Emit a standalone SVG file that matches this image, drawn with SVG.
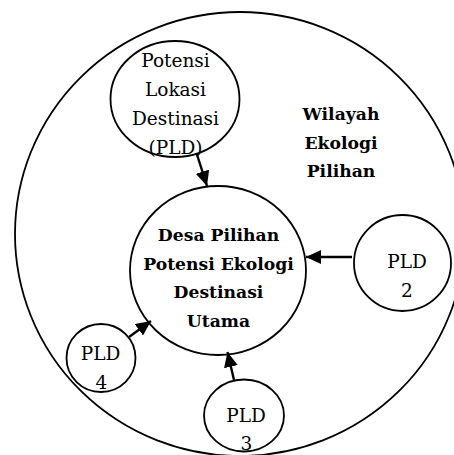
<svg xmlns="http://www.w3.org/2000/svg" width="454" height="455" viewBox="0 0 454 455">
<style>
.shape{fill:none;stroke:#000;stroke-width:1.8}
.conn{fill:none;stroke:#000;stroke-width:2.4}
.t{font-family:"DejaVu Serif","Liberation Serif",serif;font-size:18.5px;fill:#000;text-anchor:middle}
.b{font-family:"DejaVu Serif","Liberation Serif",serif;font-size:17.2px;font-weight:bold;fill:#000;text-anchor:middle}
</style>
<defs>
<marker id="ah" markerUnits="userSpaceOnUse" markerWidth="15" markerHeight="14" refX="15" refY="7" orient="auto">
<path d="M0,0 L15,7 L0,14 z" fill="#000"/>
</marker>
</defs>
<rect width="454" height="455" fill="#fff"/>
<g id="wilayah">
<ellipse class="shape" cx="240" cy="234" rx="225" ry="222"/>
<text class="b" x="341" y="120">Wilayah</text>
<text class="b" x="341" y="148.5">Ekologi</text>
<text class="b" x="341" y="177">Pilihan</text>
</g>
<g id="pld1">
<ellipse class="shape" cx="175" cy="99" rx="64.5" ry="58"/>
<text class="t" x="175.5" y="67">Potensi</text>
<text class="t" x="175.5" y="96">Lokasi</text>
<text class="t" x="175.5" y="125">Destinasi</text>
<text class="t" x="175.5" y="153.5">(PLD)</text>
</g>
<g id="desa">
<ellipse class="shape" cx="218" cy="270.5" rx="88" ry="84.5"/>
<text class="b" x="218.5" y="241">Desa Pilihan</text>
<text class="b" x="218.5" y="270">Potensi Ekologi</text>
<text class="b" x="218.5" y="298">Destinasi</text>
<text class="b" x="218.5" y="326.5">Utama</text>
</g>
<g id="pld2">
<ellipse class="shape" cx="402.5" cy="263" rx="48.5" ry="48"/>
<text class="t" x="407" y="268">PLD</text>
<text class="t" x="407" y="297">2</text>
</g>
<g id="pld4">
<ellipse class="shape" cx="101" cy="358" rx="34.5" ry="34"/>
<text class="t" x="100.5" y="360">PLD</text>
<text class="t" x="101.5" y="389">4</text>
</g>
<g id="pld3">
<ellipse class="shape" cx="244" cy="415.5" rx="40" ry="36"/>
<text class="t" x="246" y="421.5">PLD</text>
<text class="t" x="246.5" y="450">3</text>
</g>
<g id="connectors">
<line class="conn" x1="196.5" y1="153" x2="207" y2="186" marker-end="url(#ah)"/>
<line class="conn" x1="352" y1="257" x2="306" y2="257" marker-end="url(#ah)"/>
<line class="conn" x1="129" y1="337" x2="151" y2="321" marker-end="url(#ah)"/>
<line class="conn" x1="234" y1="380" x2="227.5" y2="352" marker-end="url(#ah)"/>
</g>
</svg>
